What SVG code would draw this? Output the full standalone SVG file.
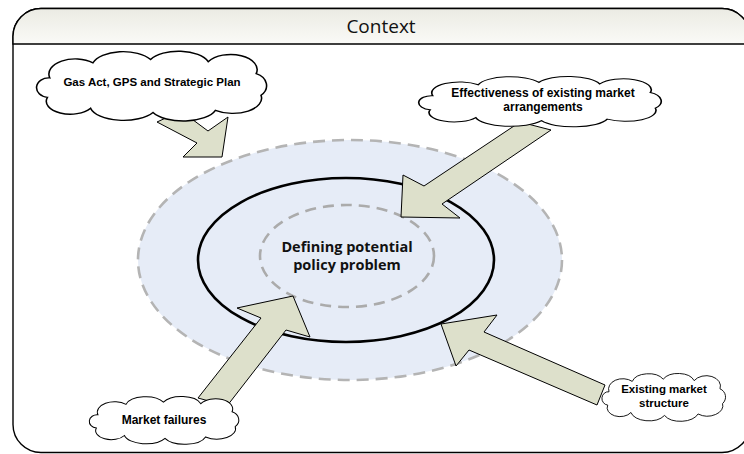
<svg xmlns="http://www.w3.org/2000/svg" width="744" height="454" viewBox="0 0 744 454">
  <style>
    .frame { fill: #ffffff; stroke: #000000; stroke-width: 1.4; }
    .header { fill: url(#hdr); stroke: #000000; stroke-width: 1.4; }
    .ring-outer { fill: #e6ecf7; stroke: #b4b4b4; stroke-width: 2.6; stroke-dasharray: 12 7; }
    .ring-solid { fill: none; stroke: #000000; stroke-width: 2.6; }
    .ring-inner { fill: none; stroke: #ababab; stroke-width: 2.6; stroke-dasharray: 11 7; }
    .arrow { fill: #dde0cb; stroke: #000000; stroke-width: 1; stroke-linejoin: miter; }
    .cloud { fill: #ffffff; stroke: #000000; stroke-width: 1.3; vector-effect: non-scaling-stroke; }
    .title { font-family: "Open Sans", "Noto Sans", sans-serif; font-size: 19px; fill: #111111; text-anchor: middle; }
    .core { font-family: "Open Sans", "Noto Sans", sans-serif; font-size: 14.5px; font-weight: bold; fill: #111111; text-anchor: middle; }
    .label { font-family: "Liberation Sans", Arial, sans-serif; font-weight: bold; fill: #000000; text-anchor: middle; }
  </style>
  <defs>
    <linearGradient id="hdr" x1="0" y1="0" x2="0" y2="1">
      <stop offset="0" stop-color="#ebebe3"/>
      <stop offset="1" stop-color="#fafaf7"/>
    </linearGradient>
    <!-- cloud outline in a 200 x 60 box -->
    <path id="cloudShape" d="M 14,24 A 22,14 0 0 1 50,10 A 26,14 0 0 1 98,7 A 26,14 0 0 1 146,9 A 22,14 0 0 1 186,20 A 14,12 0 0 1 190,40 A 24,14 0 0 1 152,54 A 28,14 0 0 1 100,56 A 28,14 0 0 1 48,52 A 20,12 0 0 1 12,42 A 10,9 0 0 1 14,24 Z"/>
  </defs>

  <!-- context frame -->
  <g id="context">
    <rect class="frame" x="13" y="8.5" width="737" height="444" rx="28" ry="28"/>
    <path class="header" d="M 13,44 L 13,36.5 A 28,28 0 0 1 41,8.5 L 722,8.5 A 28,28 0 0 1 750,36.5 L 750,44 Z"/>
    <text class="title" x="381" y="33">Context</text>
  </g>

  <!-- central rings -->
  <g id="problem">
    <ellipse class="ring-outer" cx="350" cy="260" rx="212" ry="120"/>
    <ellipse class="ring-solid" cx="346" cy="260" rx="148" ry="82"/>
    <ellipse class="ring-inner" cx="347" cy="256" rx="87" ry="51"/>
    <text class="core" x="347" y="252">Defining potential</text>
    <text class="core" x="347" y="270">policy problem</text>
  </g>

  <!-- block arrows -->
  <g id="connectors">
    <polygon class="arrow" points="157,122 181,111 208,131 228,117 222,157 183,157 197,143"/>
    <polygon class="arrow" points="401,217 403,175 424,186 520,122 551,130 442,204 460,218"/>
    <polygon class="arrow" points="198,398 227,406 286,330 310,337 293,296 237,308 261,318"/>
    <polygon class="arrow" points="441,324 497,315 484,332 605,385 597,405 469,350 456,366"/>
  </g>

  <!-- influence clouds -->
  <g id="gas-act">
    <use href="#cloudShape" class="cloud" transform="translate(33,52) scale(1.2,1.08)"/>
    <text class="label" x="152" y="86" font-size="11.5">Gas Act, GPS and Strategic Plan</text>
  </g>
  <g id="effectiveness">
    <use href="#cloudShape" class="cloud" transform="translate(415,77) scale(1.265,0.78)"/>
    <text class="label" x="543" y="97" font-size="12">Effectiveness of existing market</text>
    <text class="label" x="543" y="111" font-size="12">arrangements</text>
  </g>
  <g id="market-failures">
    <use href="#cloudShape" class="cloud" transform="translate(87,397) scale(0.78,0.74)"/>
    <text class="label" x="164" y="424" font-size="12">Market failures</text>
  </g>
  <g id="market-structure">
    <use href="#cloudShape" class="cloud" transform="translate(600,374) scale(0.645,0.74)"/>
    <text class="label" x="664" y="393" font-size="11.5">Existing market</text>
    <text class="label" x="664" y="407" font-size="11.5">structure</text>
  </g>
</svg>
